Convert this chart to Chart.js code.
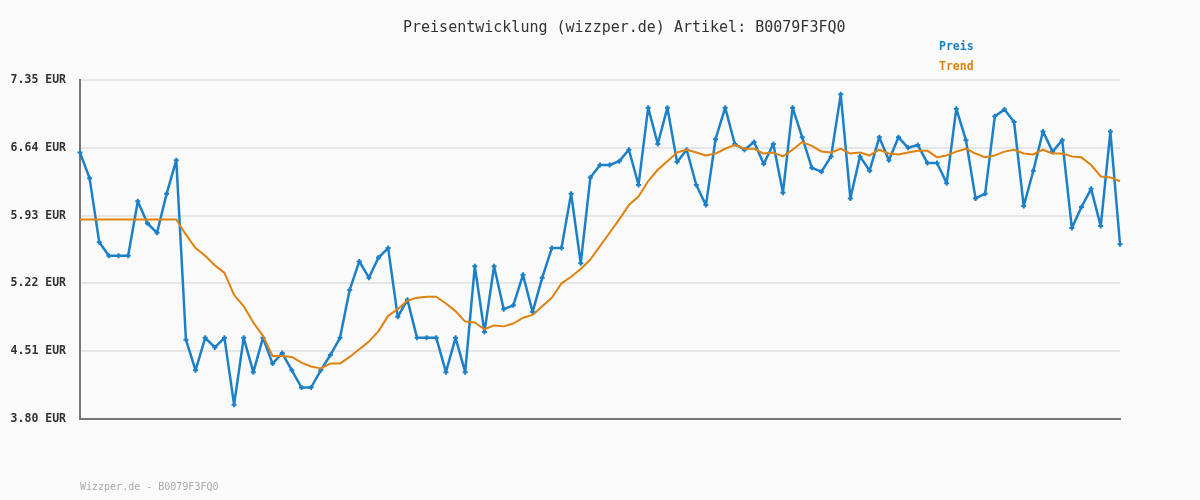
<!DOCTYPE html>
<html>
<head>
<meta charset="utf-8">
<title>Preisentwicklung B0079F3FQ0</title>
<script src="https://cdn.jsdelivr.net/npm/chart.js@4/dist/chart.umd.min.js"></script>
<style>
  html, body { margin: 0; padding: 0; background: #fafafa; }
  #priceChart { display: block; }
</style>
</head>
<body>
<canvas id="priceChart" width="1200" height="500"></canvas>
<script>
// Price history (EUR)
var price = [6.59, 6.32, 5.65, 5.51, 5.51, 5.51, 6.08, 5.85, 5.75, 6.16, 6.51,
  4.63, 4.31, 4.65, 4.55, 4.65, 3.95, 4.65, 4.29, 4.65, 4.38, 4.49, 4.31, 4.13, 4.13, 4.31, 4.47, 4.65, 5.15,
  5.45, 5.28, 5.49, 5.59, 4.87, 5.05, 4.65, 4.65, 4.65, 4.29, 4.65, 4.29, 5.40, 4.71, 5.40, 4.95, 4.99, 5.31,
  4.92, 5.28, 5.59, 5.59, 6.16, 5.43, 6.33, 6.46, 6.46, 6.50,
  6.62, 6.25, 7.06, 6.68, 7.06, 6.49, 6.62, 6.25, 6.04, 6.73, 7.06, 6.68, 6.62, 6.70, 6.47, 6.68, 6.17, 7.06,
  6.75, 6.43, 6.39, 6.55, 7.20, 6.11, 6.55, 6.40, 6.75, 6.51,
  6.75, 6.64, 6.67, 6.48, 6.48, 6.27, 7.05, 6.72, 6.11, 6.16, 6.97, 7.04, 6.91, 6.03, 6.40, 6.81, 6.60, 6.72,
  5.80, 6.02, 6.21, 5.82, 6.81, 5.63];

// Trend line (moving average)
var trend = [5.89, 5.89, 5.89, 5.89, 5.89, 5.89, 5.89, 5.89, 5.89, 5.89, 5.89,
  5.73, 5.59, 5.51, 5.41, 5.33, 5.10, 4.98, 4.81, 4.67, 4.46, 4.46, 4.45, 4.39, 4.35, 4.33, 4.38, 4.38, 4.45,
  4.53, 4.61, 4.72, 4.88, 4.95, 5.04, 5.07, 5.08, 5.08, 5.01, 4.93, 4.82, 4.81, 4.74, 4.78, 4.77, 4.80, 4.86,
  4.89, 4.98, 5.07, 5.22, 5.29, 5.37, 5.47, 5.61, 5.75, 5.89,
  6.04, 6.13, 6.29, 6.41, 6.50, 6.59, 6.62, 6.59, 6.56, 6.58, 6.63, 6.67, 6.63, 6.63, 6.58, 6.59, 6.55, 6.62,
  6.70, 6.66, 6.60, 6.59, 6.63, 6.58, 6.59, 6.56, 6.62, 6.58,
  6.57, 6.59, 6.61, 6.61, 6.54, 6.56, 6.60, 6.63, 6.58, 6.54, 6.56, 6.60, 6.62, 6.58, 6.57, 6.62, 6.58, 6.58,
  6.55, 6.54, 6.46, 6.34, 6.33, 6.29];

// y axis ticks shown on the chart
var yTicks = [3.80, 4.51, 5.22, 5.93, 6.64, 7.35];

// one category per price sample (no dates shown on the chart)
var days = price.map(function(v, i) { return i + 1; });

var titleText = "Preisentwicklung (wizzper.de) Artikel: B0079F3FQ0";
var footerText = "Wizzper.de - B0079F3FQ0";
var seriesNames = ["Preis", "Trend"];
var blue = "#1c80c8";
var orange = "#e0820f";

// background, title, legend and footer drawn by hand
var decorations = {
  id: "decorations",
  beforeDraw: function(chart) {
    var ctx = chart.ctx;
    ctx.save();
    ctx.fillStyle = "#fafafa";
    ctx.fillRect(0, 0, chart.width, chart.height);
    ctx.restore();
  },
  afterDraw: function(chart) {
    var ctx = chart.ctx;
    ctx.save();
    ctx.textBaseline = "middle";
    ctx.textAlign = "left";

    ctx.fillStyle = "#333";
    ctx.font = "15px 'DejaVu Sans Mono', monospace";
    ctx.fillText(titleText, 403, 28);

    ctx.font = "bold 11.5px 'DejaVu Sans Mono', monospace";
    ctx.fillStyle = blue;
    ctx.fillText(seriesNames[0], 939, 47);
    ctx.fillStyle = orange;
    ctx.fillText(seriesNames[1], 939, 67);

    ctx.font = "10px 'DejaVu Sans Mono', monospace";
    ctx.fillStyle = "#aaa";
    ctx.fillText(footerText, 80, 487);
    ctx.restore();
  }
};

window.onload = function() {
  var ctx = document.getElementById("priceChart").getContext("2d");

  var priceChart = new Chart(ctx, {
    type: "line",
    data: {
      labels: days,
      datasets: [{
        label: seriesNames[1],
        data: trend,
        borderColor: orange,
        borderWidth: 2,
        borderJoinStyle: "round",
        pointRadius: 0,
        tension: 0,
        fill: false
      }, {
        label: seriesNames[0],
        data: price,
        borderColor: blue,
        backgroundColor: blue,
        borderWidth: 2.5,
        borderJoinStyle: "round",
        pointStyle: "cross",
        pointRadius: 2.5,
        pointBorderWidth: 2,
        pointBorderColor: blue,
        tension: 0,
        fill: false
      }]
    },
    options: {
      responsive: false,
      animation: false,
      events: [],
      layout: {
        padding: { top: 80, bottom: 81, left: 0, right: 80 }
      },
      plugins: {
        legend: { display: false },
        title: { display: false },
        tooltip: { enabled: false }
      },
      scales: {
        x: {
          type: "category",
          offset: false,
          ticks: { display: false },
          grid: { display: false },
          border: { display: true, color: "#777", width: 2 },
          afterFit: function(scale) { scale.height = 0; }
        },
        y: {
          min: yTicks[0],
          max: yTicks[yTicks.length - 1],
          afterBuildTicks: function(scale) {
            scale.ticks = yTicks.map(function(v) { return { value: v }; });
          },
          afterFit: function(scale) { scale.width = 80; },
          ticks: {
            padding: 14,
            color: "#333",
            font: { family: "'DejaVu Sans Mono', monospace", size: 11.5, weight: "bold" },
            callback: function(value) { return Number(value).toFixed(2) + " EUR"; }
          },
          grid: { color: "#e6e6e6", lineWidth: 2, drawTicks: false },
          border: { display: true, color: "#777", width: 2 }
        }
      }
    },
    plugins: [decorations]
  });
};
</script>
</body>
</html>
